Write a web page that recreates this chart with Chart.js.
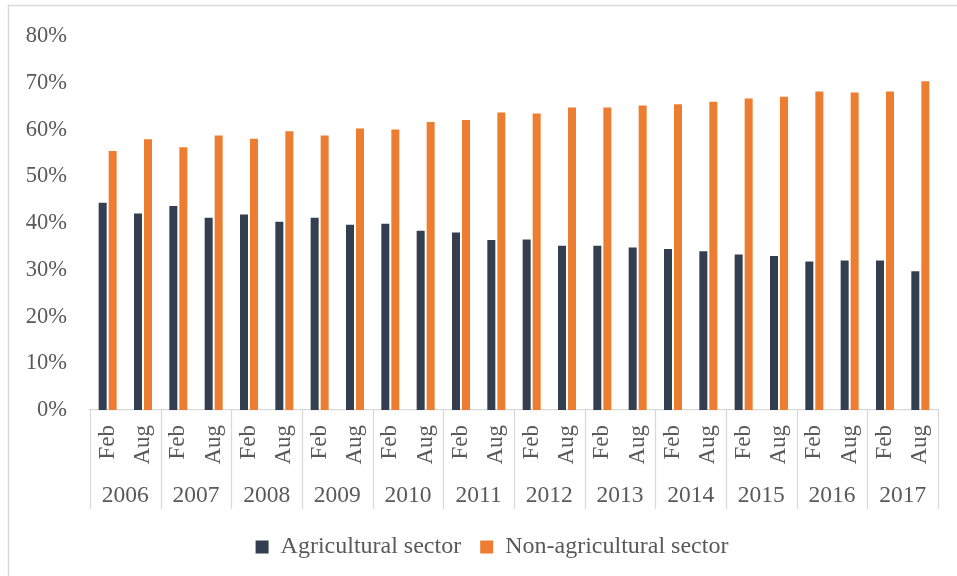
<!DOCTYPE html>
<html>
<head>
<meta charset="utf-8">
<script src="https://cdn.jsdelivr.net/npm/chart.js@4/dist/chart.umd.min.js"></script>
<style>
  html, body { margin: 0; padding: 0; background: #ffffff; }
  #wrap { position: relative; width: 957px; height: 576px; }
</style>
</head>
<body>
<div id="wrap"><canvas id="c"></canvas></div>
<script>
const monthLabels = ['Feb','Aug','Feb','Aug','Feb','Aug','Feb','Aug','Feb','Aug','Feb','Aug',
                     'Feb','Aug','Feb','Aug','Feb','Aug','Feb','Aug','Feb','Aug','Feb','Aug'];
const years = ['2006','2007','2008','2009','2010','2011','2012','2013','2014','2015','2016','2017'];
const agricultural = [44.4, 42.1, 43.7, 41.2, 41.9, 40.3, 41.2, 39.7, 39.9, 38.4, 38.0, 36.4,
                      36.5, 35.2, 35.2, 34.8, 34.5, 34.0, 33.3, 33.0, 31.8, 32.0, 32.0, 29.7];
const nonAgricultural = [55.5, 58.0, 56.3, 58.8, 58.1, 59.7, 58.8, 60.3, 60.1, 61.7, 62.1, 63.7,
                         63.5, 64.8, 64.8, 65.2, 65.5, 66.0, 66.7, 67.1, 68.2, 68.0, 68.2, 70.4];
const yTicks = [0, 10, 20, 30, 40, 50, 60, 70, 80];

const FONT = '"Liberation Serif", "Times New Roman", serif';
const TEXT = '#595959';
const LINE = '#d9d9d9';

const yearAxisPlugin = {
  id: 'yearAxis',
  afterLayout(chart) {
    if (chart.legend) {
      chart.legend.left += 19;
      chart.legend.right += 19;
    }
  },
  beforeDraw(chart) {
    const ctx = chart.ctx;
    ctx.save();
    ctx.strokeStyle = LINE;
    ctx.lineWidth = 1.5;
    ctx.strokeRect(8.5, 5.5, 1000, 1000);
    ctx.restore();
  },
  afterDraw(chart) {
    const ctx = chart.ctx;
    const x = chart.scales.x;
    const area = chart.chartArea;
    const half = (x.getPixelForValue(1) - x.getPixelForValue(0)) / 2;
    ctx.save();
    ctx.strokeStyle = LINE;
    ctx.lineWidth = 1.3;
    for (let i = 0; i <= years.length; i++) {
      const px = i < years.length ? x.getPixelForValue(2 * i) - half
                                  : x.getPixelForValue(2 * i - 1) + half;
      ctx.beginPath();
      ctx.moveTo(Math.round(px) + 0.5, area.bottom);
      ctx.lineTo(Math.round(px) + 0.5, 509);
      ctx.stroke();
    }
    ctx.fillStyle = TEXT;
    ctx.font = '23.5px ' + FONT;
    ctx.textAlign = 'center';
    ctx.textBaseline = 'middle';
    years.forEach((yr, i) => {
      const cx = (x.getPixelForValue(2 * i) + x.getPixelForValue(2 * i + 1)) / 2;
      ctx.fillText(yr, cx, 496);
    });
    ctx.restore();
  }
};

new Chart(document.getElementById('c'), {
  type: 'bar',
  data: {
    labels: monthLabels,
    datasets: [
      { label: 'Agricultural sector', data: agricultural, backgroundColor: '#333f50',
        categoryPercentage: 0.566, barPercentage: 0.8 },
      { label: 'Non-agricultural sector', data: nonAgricultural, backgroundColor: '#ed7d31',
        categoryPercentage: 0.566, barPercentage: 0.8 }
    ]
  },
  options: {
    responsive: true,
    maintainAspectRatio: false,
    animation: false,
    layout: { padding: { left: 8, top: 35, right: 19, bottom: 7 } },
    scales: {
      x: {
        grid: { display: false, drawTicks: false },
        border: { display: true, color: LINE, width: 1.3 },
        ticks: { color: TEXT, font: { family: FONT, size: 23 }, minRotation: 90, maxRotation: 90,
                 autoSkip: false, padding: 15 },
        afterFit(scale) { scale.height = 106; scale.paddingLeft = 0; scale.paddingRight = 0; }
      },
      y: {
        min: 0, max: 80,
        grid: { display: false, drawTicks: false },
        border: { display: false },
        afterBuildTicks(scale) { scale.ticks = yTicks.map(v => ({ value: v })); },
        ticks: { color: TEXT, font: { family: FONT, size: 22.5 }, padding: 23,
                 callback: v => v + '%' },
        afterFit(scale) { scale.width = 82; }
      }
    },
    plugins: {
      legend: {
        position: 'bottom',
        labels: { color: TEXT, font: { family: FONT, size: 24 }, boxWidth: 13, boxHeight: 13,
                  padding: 19 }
      },
      tooltip: { enabled: false }
    }
  },
  plugins: [yearAxisPlugin]
});
</script>
</body>
</html>
